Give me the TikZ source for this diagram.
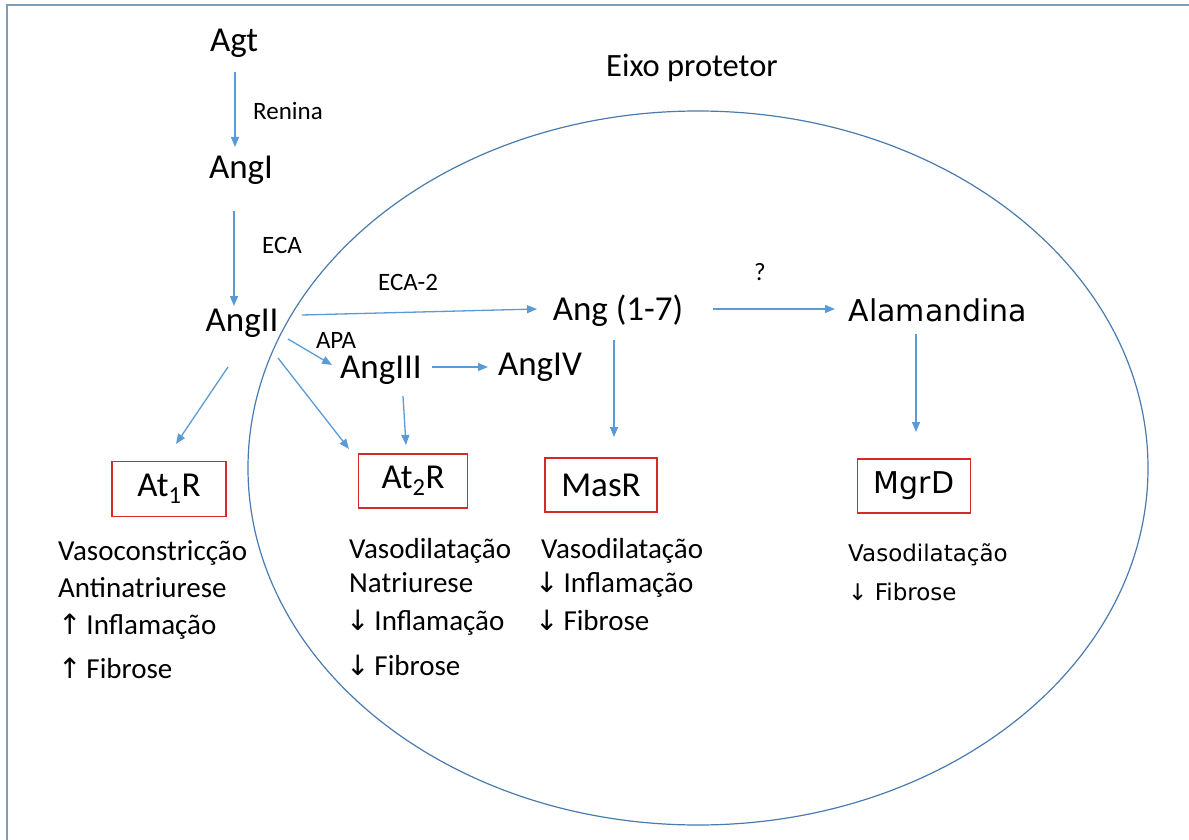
\documentclass[tikz,border=0pt]{standalone}
\usepackage{fontspec}
\setmainfont{Carlito}
\newfontfamily\wide{DejaVu Sans}
\newfontfamily\arw{DejaVu Sans}
\usetikzlibrary{arrows.meta,calc}
\definecolor{arrblue}{HTML}{5B9BD5}
\definecolor{ellblue}{HTML}{4A7BAE}
\definecolor{framecol}{HTML}{7F9DB9}
\definecolor{boxred}{HTML}{D42A2A}
\newcommand{\fs}[1]{\fontsize{#1}{#1}\selectfont}
\newcommand{\up}{{\arw\fontsize{28}{28}\selectfont ↑}}
\newcommand{\dn}{{\arw\fontsize{28}{28}\selectfont ↓}}
\tikzset{
  arr/.style={draw=arrblue, line width=1.3pt, -{Triangle[length=10pt,width=8pt]}},
  mol/.style={inner sep=0pt, font=\fs{35}},
  enz/.style={inner sep=0pt, font=\fs{25}},
  rbox/.style={draw=boxred, line width=1.2pt, inner sep=0pt, font=\fs{35}},
  eff/.style={inner sep=0pt, anchor=west, font=\fs{29}},
  effw/.style={inner sep=0pt, anchor=west, font=\wide\fs{23}},
}
\begin{document}
\begin{tikzpicture}[x=1pt,y=-1pt]
\useasboundingbox (0,0) rectangle (1189,840);
\fill[white] (0,0) rectangle (1189,840);
% frame
\draw[framecol, line width=1.2pt] (7,850) -- (7,5) -- (1200,5);
% ellipse
\draw[ellblue, line width=1.2pt] (698,468) ellipse [x radius=450, y radius=357];
\node[inner sep=0pt, font=\fs{32.5}] (eixo) at (692,68) {Eixo protetor};
% molecules
\node[mol] (agt) at (234,43) {Agt};
\node[mol] (angI) at (241,170) {AngI};
\node[mol] (angII) at (242,323) {AngII};
\node[mol] (ang17) at (618,311) {Ang (1-7)};
\node[inner sep=0pt, font=\wide\fs{30}] (alam) at (938,310) {Alamandina};
\node[mol] (angIII) at (381,370) {AngIII};
\node[mol] (angIV) at (540,367) {AngIV};
% enzymes
\node[enz] (renina) at (288,111) {Renina};
\node[enz] (eca) at (282,245) {ECA};
\node[enz] (eca2) at (408,282) {ECA-2};
\node[enz] (apa) at (336,340) {APA};
\node[enz] (q) at (760,272) {?};
% receptors
\node[rbox, minimum width=114, minimum height=55] (at1) at (169,489) {At\textsubscript{1}R};
\node[rbox, minimum width=109, minimum height=54] (at2) at (413,481) {At\textsubscript{2}R};
\node[rbox, minimum width=112, minimum height=54] (mas) at (601,485) {MasR};
\node[rbox, minimum width=113, minimum height=54, font=\wide\fs{30}] (mgrd) at (914,486) {MgrD};
% arrows
\draw[arr] ($(agt)+(1,29)$) -- ($(angI)+(-6,-23)$);
\draw[arr] ($(angI)+(-7,41)$) -- ($(angII)+(-8,-17)$);
\draw[arr] ($(angII)+(60,-8)$) -- ($(ang17)+(-81,-2)$);
\draw[arr] ($(angII)+(46,16)$) -- ($(angIII)+(-49,-5)$);
\draw[arr] ($(angIII)+(51,-3)$) -- ($(angIV)+(-52,0)$);
\draw[arr] ($(angIII)+(22,26)$) -- ($(at2)+(-7,-36)$);
\draw[arr] ($(angII)+(36,35)$) -- ($(at2)+(-64,-32)$);
\draw[arr] ($(angII)+(-14,44)$) -- ($(at1)+(7,-45)$);
\draw[arr] ($(ang17)+(-4,29)$) -- ($(mas)+(13,-48)$);
\draw[arr] ($(ang17)+(95,-2)$) -- ($(alam)+(-103,-1)$);
\draw[arr] ($(alam)+(-22,24)$) -- ($(mgrd)+(2,-54)$);
% effects
\node[eff] (e1a) at (58,553) {Vasoconstricção};
\node[eff] (e1b) at (58,588) {Antinatriurese};
\node[eff] (e1c) at (58,627) {\up\,Inflamação};
\node[eff] (e1d) at (58,668) {\up\,Fibrose};
\node[eff] (e2a) at (349,551) {Vasodilatação};
\node[eff] (e2b) at (349,583) {Natriurese};
\node[eff] (e2c) at (346,623) {\dn\,Inflamação};
\node[eff] (e2d) at (346,665) {\dn\,Fibrose};
\node[eff] (e3a) at (541,551) {Vasodilatação};
\node[eff] (e3b) at (535,585) {\dn\,Inflamação};
\node[eff] (e3c) at (535,620) {\dn\,Fibrose};
\node[effw] (e4a) at (848,555) {Vasodilatação};
\node[effw] (e4b) at (848,592) {{\arw ↓} Fibrose};
\end{tikzpicture}
\end{document}
